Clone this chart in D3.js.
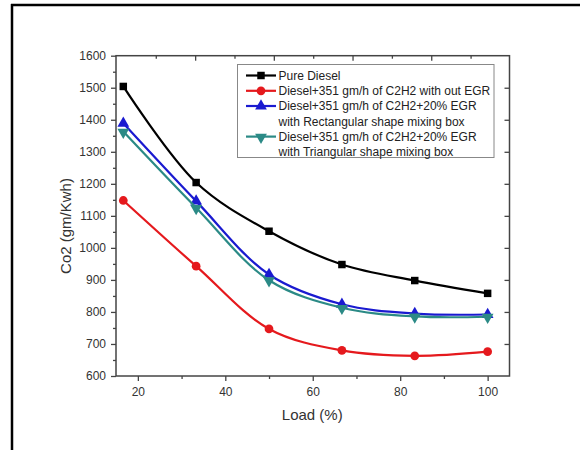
<!DOCTYPE html>
<html>
<head>
<meta charset="utf-8">
<script src="https://cdn.jsdelivr.net/npm/d3@7"></script>
<style>
  body { margin: 0; background: #fff; }
  svg { display: block; }
  text { font-family: Arial, "Liberation Sans", sans-serif; }
</style>
</head>
<body>
<svg id="chart" width="580" height="450"></svg>
<script>
// ---- data ----
const loads = [16.67, 33.33, 50, 66.67, 83.33, 100];
const pureDiesel = [1504, 1204, 1052, 948, 898, 858];
const dieselC2H2 = [1148, 943, 747, 680, 663, 676];
const egrRect = [1389, 1146, 917, 824, 795, 792];
const egrTri = [1363, 1125, 899, 813, 786, 785];
const seriesNames = [
  ["Pure Diesel"],
  ["Diesel+351 gm/h of C2H2 with out EGR"],
  ["Diesel+351 gm/h of C2H2+20% EGR", "with Rectangular shape mixing box"],
  ["Diesel+351 gm/h of C2H2+20% EGR", "with Triangular shape mixing box"]
];
const xTicks = [20, 40, 60, 80, 100];
const xMinorTicks = [30, 50, 70, 90];
const yTicks = [600, 700, 800, 900, 1000, 1100, 1200, 1300, 1400, 1500, 1600];
const yMinorTicks = [650, 750, 850, 950, 1050, 1150, 1250, 1350, 1450, 1550];
const topMajorTicks = [33.1, 51.1, 69.1, 87.1];
const topMinorTicks = [24.1, 42.1, 60.1, 78.1, 96.1];
const xTitle = "Load (%)";
const yTitle = "Co2 (gm/Kwh)";

// ---- styles ----
const colors = ["#000000", "#e5191d", "#1a1ad0", "#2b8a86"];
const symbols = [d3.symbolSquare, d3.symbolCircle, d3.symbolTriangle, "down"];

const svg = d3.select("#chart");
const L = 116, R = 509.5, T = 55.7, B = 376;
const x = d3.scaleLinear().domain([15, 105]).range([L, R]);
const y = d3.scaleLinear().domain([600, 1600]).range([B, T]);

// outer frame (left + top)
svg.append("line").attr("x1", 12).attr("x2", 12).attr("y1", 4).attr("y2", 450)
  .attr("stroke", "#000").attr("stroke-width", 2.5);
svg.append("line").attr("x1", 11).attr("x2", 580).attr("y1", 5).attr("y2", 5)
  .attr("stroke", "#000").attr("stroke-width", 2.5);

const axisColor = "#444";
// plot frame
svg.append("rect").attr("x", L).attr("y", T).attr("width", R - L).attr("height", B - T)
  .attr("fill", "none").attr("stroke", axisColor).attr("stroke-width", 1.5);

// bottom axis
svg.append("g").attr("transform", `translate(0,${B})`)
  .call(d3.axisBottom(x).tickValues(xTicks).tickSize(5).tickSizeOuter(0).tickPadding(6).tickFormat(d3.format("d")));
svg.append("g").attr("transform", `translate(0,${B})`)
  .call(d3.axisBottom(x).tickValues(xMinorTicks).tickSize(3).tickSizeOuter(0).tickFormat(""));
// left axis
svg.append("g").attr("transform", `translate(${L},0)`)
  .call(d3.axisLeft(y).tickValues(yTicks).tickSize(5).tickSizeOuter(0).tickPadding(5).tickFormat(d3.format("d")));
svg.append("g").attr("transform", `translate(${L},0)`)
  .call(d3.axisLeft(y).tickValues(yMinorTicks).tickSize(3).tickSizeOuter(0).tickFormat(""));
// top axis (inward)
svg.append("g").attr("transform", `translate(0,${T})`)
  .call(d3.axisBottom(x).tickValues(topMajorTicks).tickSize(5).tickSizeOuter(0).tickFormat(""));
svg.append("g").attr("transform", `translate(0,${T})`)
  .call(d3.axisBottom(x).tickValues(topMinorTicks).tickSize(3).tickSizeOuter(0).tickFormat(""));
// right axis (inward)
svg.append("g").attr("transform", `translate(${R},0)`)
  .call(d3.axisLeft(y).tickValues(yTicks.slice(1, -1)).tickSize(5).tickSizeOuter(0).tickFormat(""));

svg.selectAll(".domain").attr("stroke", "none");
svg.selectAll(".tick line").attr("stroke", axisColor).attr("stroke-width", 1.3);
svg.selectAll(".tick text").attr("fill", "#333").style("font-size", "12px")
  .style("font-family", "Arial, 'Liberation Sans', sans-serif");

// axis titles
svg.append("text").attr("x", (L + R) / 2 - 0.5).attr("y", 420).attr("text-anchor", "middle")
  .attr("fill", "#333").style("font-size", "15px").text(xTitle);
svg.append("text").attr("transform", `translate(71,226) rotate(-90)`).attr("text-anchor", "middle")
  .attr("fill", "#333").style("font-size", "15px").text(yTitle);

// series
const allSeries = [pureDiesel, dieselC2H2, egrRect, egrTri];
const line = d3.line().x(d => x(d[0])).y(d => y(d[1])).curve(d3.curveCatmullRom.alpha(0.5));

function marker(g, i, cx, cy) {
  const sym = symbols[i];
  if (sym === "down") {
    g.append("path").attr("d", d3.symbol(d3.symbolTriangle, 60)())
      .attr("transform", `translate(${cx},${cy + 0.5}) rotate(180)`).attr("fill", colors[i]);
  } else {
    const size = sym === d3.symbolSquare ? 56 : 60;
    g.append("path").attr("d", d3.symbol(sym, size)())
      .attr("transform", `translate(${cx},${cy})`).attr("fill", colors[i]);
  }
}

allSeries.forEach((vals, i) => {
  const pts = loads.map((l, k) => [l, vals[k]]);
  const g = svg.append("g");
  g.append("path").datum(pts).attr("d", line).attr("fill", "none")
    .attr("stroke", colors[i]).attr("stroke-width", 2.2);
  pts.forEach(p => marker(g, i, x(p[0]), y(p[1])));
});

// legend
const lg = svg.append("g");
lg.append("rect").attr("x", 237.5).attr("y", 64.5).attr("width", 256.5).attr("height", 93)
  .attr("fill", "#fff").attr("stroke", "#888").attr("stroke-width", 1);
const rowY = [75.5, 90.8, 106, 121.3, 136.6, 151.9];
let r = 0;
seriesNames.forEach((lines, i) => {
  const cy = rowY[r];
  lg.append("line").attr("x1", 246).attr("x2", 276).attr("y1", cy).attr("y2", cy)
    .attr("stroke", colors[i]).attr("stroke-width", 2.2);
  marker(lg, i, 261, cy);
  lines.forEach(t => {
    lg.append("text").attr("x", 278.5).attr("y", rowY[r] + 4.3).attr("fill", "#222")
      .style("font-size", "12px").text(t);
    r++;
  });
});
</script>
</body>
</html>
